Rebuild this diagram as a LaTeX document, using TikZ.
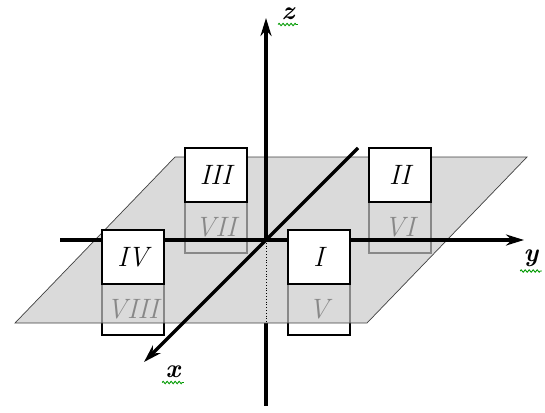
\documentclass[tikz,border=0pt]{standalone}
\usetikzlibrary{arrows.meta,decorations.pathmorphing}
\begin{document}
\begin{tikzpicture}[x=1pt,y=-1pt,
  axis/.style={line width=3.4pt,-{Stealth[length=18pt,width=11pt]}},
  axisplain/.style={line width=3.4pt},
  topbox/.style={draw=black,line width=1.5pt,fill=white,minimum width=62pt,minimum height=54pt,inner sep=0pt,anchor=north west,font=\fontsize{28}{28}\selectfont\itshape},
  botbox/.style={draw=black,line width=1.5pt,fill=white,minimum width=62pt,minimum height=51pt,inner sep=0pt,anchor=north west,font=\fontsize{28}{28}\selectfont\itshape},
  plane/.style={draw=black!75,line width=0.7pt,fill=black!21,fill opacity=0.68},
  lbl/.style={font=\fontsize{26}{26}\selectfont\bfseries\itshape},
  squig/.style={draw=green!60!black,line width=0.9pt,decorate,decoration={zigzag,segment length=4pt,amplitude=1.2pt}}]
\useasboundingbox (0,0) rectangle (545,412);
% coordinates
\coordinate (O) at (266,240);
\coordinate (zbot) at (266,406);
\coordinate (zedge) at (266,323);
\coordinate (ztop) at (266,18);
\coordinate (yleft) at (60,240);
\coordinate (ytip) at (524,240);
\coordinate (xback) at (358,148);
\coordinate (xtip) at (144,362);
\coordinate (p1) at (15,323);
\coordinate (p2) at (367,323);
\coordinate (p3) at (527,157);
\coordinate (p4) at (175,157);
% lower z axis
\draw[axisplain] (zedge) -- (zbot);
% lower parts of boxes
\node[botbox] (b7) at (184,201) {VII};
\node[botbox] (b6) at (368,201) {VI};
\node[botbox] (b5) at (287,283) {V};
\node[botbox] (b8) at (101,283) {VIII};
% plane
\path[plane] (p1) -- (p2) -- (p3) -- (p4) -- cycle;
% hidden part of z axis
\draw[line width=0.8pt,dotted] (O) -- (zedge);
% axes over the plane
\draw[axis] (yleft) -- (ytip);
\draw[axis] (xback) -- (xtip);
\draw[axis] (O) -- (ztop);
% upper parts of boxes
\node[topbox] (b3) at (184,147) {III};
\node[topbox] (b2) at (368,147) {II};
\node[topbox] (b1) at (287,229) {I};
\node[topbox] (b4) at (101,229) {IV};
% labels
\node[lbl] (lz) at (288,14) {z};
\node[lbl] (ly) at (531,258) {y};
\node[lbl] (lx) at (173,372) {x};
\draw[squig] ([yshift=-1pt]lz.south west) -- ([yshift=-1pt]lz.south east);
\draw[squig] ([yshift=-1pt]ly.south west) -- ([yshift=-1pt]ly.south east);
\draw[squig] ([yshift=-1pt]lx.south west) -- ([yshift=-1pt]lx.south east);
\end{tikzpicture}
\end{document}
